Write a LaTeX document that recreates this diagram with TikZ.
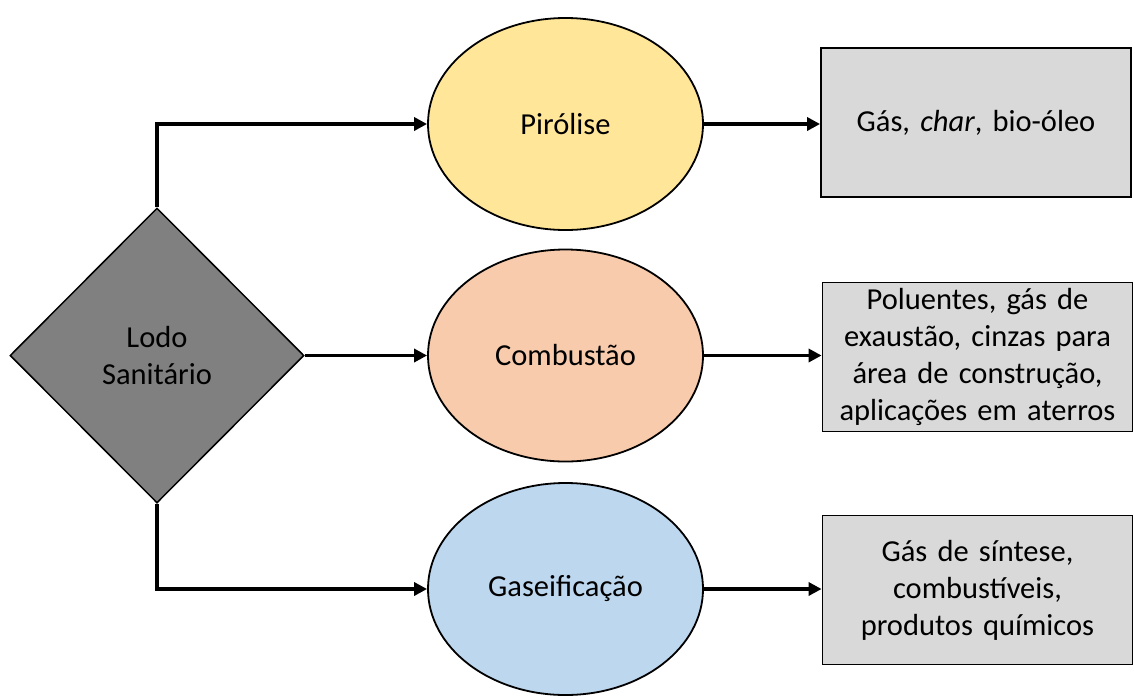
\documentclass[tikz,border=0pt]{standalone}
\usepackage{fontspec}
\setmainfont{Carlito}
\usetikzlibrary{shapes.geometric,arrows.meta}
\definecolor{lodo}{HTML}{808080}
\definecolor{piro}{HTML}{FFE699}
\definecolor{comb}{HTML}{F8CBAD}
\definecolor{gase}{HTML}{BDD7EE}
\definecolor{prod}{HTML}{D9D9D9}
\tikzset{
  every node/.style={font=\fontsize{30.5pt}{37pt}\selectfont},
  source/.style={diamond, shape aspect=1, draw=black, line width=1.5pt, fill=lodo,
    minimum width=294pt, minimum height=295pt, inner sep=0pt, align=center},
  process/.style={ellipse, draw=black, line width=1.8pt,
    minimum width=275pt, minimum height=212pt, inner sep=0pt},
  product/.style={rectangle, draw=black, line width=1.8pt, fill=prod,
    minimum width=310pt, minimum height=149pt, inner sep=0pt, text width=300pt, align=center},
  flow/.style={line width=3.5pt, -{Triangle[length=13pt,width=13pt]}},
}
\begin{document}
\begin{tikzpicture}[x=1pt,y=-1pt]
\useasboundingbox (0,0) rectangle (1135,697);
\node[source] (lodo) at (157,355.5) {Lodo\\Sanitário};
\node[process, fill=piro] (piro) at (565.5,124) {Pirólise};
\node[process, fill=comb] (comb) at (565.5,355.5) {Combustão};
\node[process, fill=gase] (gase) at (565.5,589) {Gaseificação};
\node[product] (pp) at (976,122.5) {Gás, \textit{char}, bio-óleo};
\node[product] (pc) at (977.5,357) {Poluentes, gás de\\exaustão, cinzas para\\área de construção,\\aplicações em aterros};
\node[product] (pg) at (977.5,590) {Gás de síntese,\\combustíveis,\\produtos químicos};
% source to the three processes
\draw[flow] (lodo.north) |- (piro.west);
\draw[flow] (lodo.east) -- (comb.west);
\draw[flow] (lodo.south) |- (gase.west);
% each process to its products, kept horizontal
\draw[flow] (piro.east) -- (piro.east -| pp.west);
\draw[flow] (comb.east) -- (comb.east -| pc.west);
\draw[flow] (gase.east) -- (gase.east -| pg.west);
\end{tikzpicture}
\end{document}
